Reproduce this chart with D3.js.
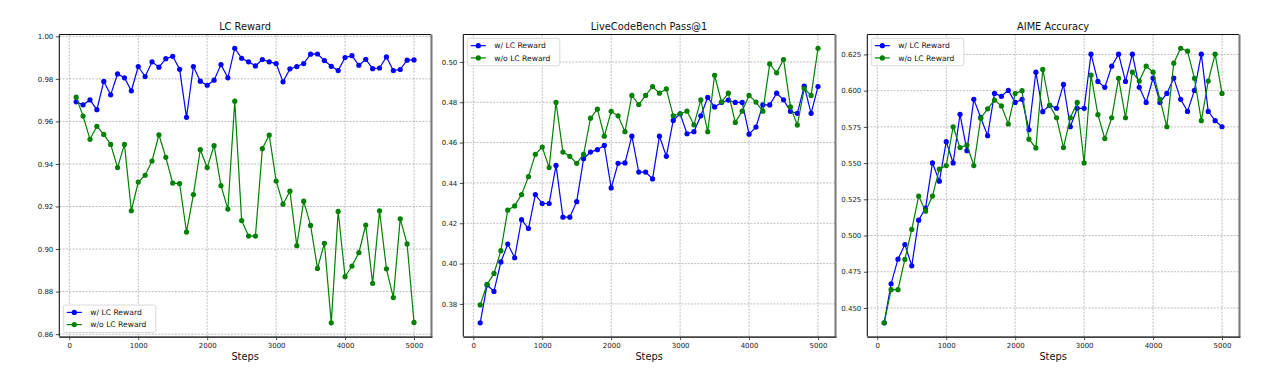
<!DOCTYPE html>
<html><head><meta charset="utf-8">
<script src="https://cdn.jsdelivr.net/npm/d3@7"></script>
<style>body{margin:0;background:#fff}svg{display:block}text{font-family:"DejaVu Sans",sans-serif}</style>
</head><body><svg id="c" width="1271" height="378"></svg>
<script>
const steps = d3.range(1, 51).map(i => i * 100);
const seriesNames = ["w/ LC Reward", "w/o LC Reward"];
const titles = ["LC Reward", "LiveCodeBench Pass@1", "AIME Accuracy"];
const xTicks = [0, 1000, 2000, 3000, 4000, 5000];

const lcRewardWith = [0.9692,0.9678,0.9701,0.9655,0.9788,0.9725,0.9823,0.9805,0.9744,0.9858,
0.9811,0.9880,0.9855,0.9895,0.9906,0.9845,0.9619,0.9858,0.9789,0.9770,
0.9794,0.9867,0.9805,0.9944,0.9897,0.9880,0.9861,0.9891,0.9880,0.9872,
0.9786,0.9847,0.9858,0.9872,0.9916,0.9917,0.9886,0.9859,0.9839,0.9900,
0.9909,0.9864,0.9892,0.9848,0.9851,0.9903,0.9839,0.9844,0.9888,0.9889];
const lcRewardWithout = [0.9714,0.9625,0.9516,0.9577,0.9539,0.9492,0.9383,0.9492,0.9180,0.9315,
0.9347,0.9414,0.9537,0.9431,0.9310,0.9308,0.9080,0.9256,0.9467,0.9383,
0.9486,0.9298,0.9188,0.9695,0.9134,0.9061,0.9061,0.9472,0.9536,0.9320,
0.9211,0.9272,0.9016,0.9225,0.9111,0.8909,0.9027,0.8653,0.9177,0.8870,
0.8920,0.8983,0.9113,0.8839,0.9180,0.8907,0.8772,0.9142,0.9024,0.8655];
const lcbWith = [0.3706,0.3894,0.3862,0.4008,0.4097,0.4029,0.4218,0.4174,0.4342,0.4298,
0.4298,0.4487,0.4230,0.4230,0.4307,0.4520,0.4553,0.4565,0.4586,0.4375,
0.4497,0.4499,0.4632,0.4454,0.4454,0.4420,0.4632,0.4532,0.4710,0.4743,
0.4644,0.4654,0.4733,0.4824,0.4777,0.4799,0.4811,0.4799,0.4799,0.4642,
0.4677,0.4787,0.4787,0.4845,0.4812,0.4755,0.4745,0.4880,0.4745,0.4878];
const lcbWithout = [0.3795,0.3897,0.3951,0.4064,0.4265,0.4286,0.4342,0.4431,0.4542,0.4578,
0.4476,0.4799,0.4553,0.4532,0.4497,0.4542,0.4721,0.4766,0.4632,0.4755,
0.4733,0.4654,0.4834,0.4789,0.4834,0.4878,0.4845,0.4866,0.4733,0.4743,
0.4756,0.4688,0.4812,0.4654,0.4934,0.4801,0.4845,0.4700,0.4756,0.4834,
0.4801,0.4756,0.4990,0.4946,0.5012,0.4777,0.4687,0.4868,0.4834,0.5068];
const aimeWith = [0.4397,0.4667,0.4837,0.4938,0.4791,0.5106,0.5189,0.5501,0.5375,0.5648,
0.5501,0.5837,0.5586,0.5940,0.5815,0.5689,0.5981,0.5961,0.6002,0.5919,
0.5940,0.5730,0.6128,0.5855,0.5899,0.5878,0.6043,0.5751,0.5878,0.5878,
0.6252,0.6064,0.6023,0.6169,0.6252,0.6064,0.6252,0.6023,0.5919,0.6087,
0.5919,0.5981,0.6087,0.5940,0.5857,0.6002,0.6252,0.5857,0.5793,0.5751];
const aimeWithout = [0.4397,0.4626,0.4626,0.4835,0.5042,0.5272,0.5168,0.5272,0.5458,0.5483,
0.5751,0.5607,0.5625,0.5483,0.5810,0.5875,0.5935,0.5895,0.5770,0.5980,
0.6000,0.5665,0.5605,0.6147,0.5899,0.5813,0.5607,0.5813,0.5919,0.5501,
0.6107,0.5834,0.5669,0.5813,0.6085,0.5813,0.6128,0.6066,0.6169,0.6128,
0.5940,0.5751,0.6190,0.6293,0.6273,0.6085,0.5793,0.6066,0.6252,0.5981];

const yTicks1 = [0.86,0.88,0.90,0.92,0.94,0.96,0.98,1.00];
const yTicks2 = [0.38,0.40,0.42,0.44,0.46,0.48,0.50];
const yTicks3 = [0.450,0.475,0.500,0.525,0.550,0.575,0.600,0.625];

const panels = [
  {title: titles[0], a: lcRewardWith, b: lcRewardWithout, ticks: yTicks1, fmt: d3.format(".2f"), legend: "bottom"},
  {title: titles[1], a: lcbWith, b: lcbWithout, ticks: yTicks2, fmt: d3.format(".2f"), legend: "top"},
  {title: titles[2], a: aimeWith, b: aimeWithout, ticks: yTicks3, fmt: d3.format(".3f"), legend: "top"}
];
const colors = ["#0000ff", "#008000"];

const svg = d3.select("#c");
const lefts = [59.3, 463.3, 867.3], W = 371.6, topY = 34.5, botY = 336.6;

panels.forEach((p, i) => {
  const L = lefts[i], R = L + W;
  const g = svg.append("g");
  const x = d3.scaleLinear().domain([100 - 245, 5000 + 245]).range([L, R]);
  const all = p.a.concat(p.b);
  const lo = d3.min(all), hi = d3.max(all), pad = (hi - lo) * 0.05;
  const y = d3.scaleLinear().domain([lo - pad, hi + pad]).range([botY, topY]);

  // grid
  g.append("g").selectAll("line").data(xTicks).join("line")
    .attr("x1", d => x(d)).attr("x2", d => x(d)).attr("y1", topY).attr("y2", botY)
    .attr("stroke", "#a8a8a8").attr("stroke-width", 0.75).attr("stroke-dasharray", "2,1.3");
  g.append("g").selectAll("line").data(p.ticks).join("line")
    .attr("x1", L).attr("x2", R).attr("y1", d => y(d)).attr("y2", d => y(d))
    .attr("stroke", "#a8a8a8").attr("stroke-width", 0.75).attr("stroke-dasharray", "2,1.3");

  // axes
  const xa = g.append("g").attr("transform", `translate(0,${botY})`)
    .call(d3.axisBottom(x).tickValues(xTicks).tickFormat(d3.format("d")).tickSize(3.5).tickPadding(2.5));
  const ya = g.append("g").attr("transform", `translate(${L},0)`)
    .call(d3.axisLeft(y).tickValues(p.ticks).tickFormat(p.fmt).tickSize(3.5).tickPadding(2.5));
  [xa, ya].forEach(a => {
    a.select(".domain").remove();
    a.selectAll("text").attr("font-size", 7).attr("fill", "#222").attr("font-family", "DejaVu Sans");
    a.selectAll("line").attr("stroke", "#222").attr("stroke-width", 0.8);
  });

  // lines and markers
  [p.a, p.b].forEach((vals, k) => {
    const pts = steps.map((s, j) => [s, vals[j]]);
    g.append("path").datum(pts)
      .attr("d", d3.line().x(d => x(d[0])).y(d => y(d[1])))
      .attr("fill", "none").attr("stroke", colors[k]).attr("stroke-width", 1.2);
    g.append("g").selectAll("circle").data(pts).join("circle")
      .attr("cx", d => x(d[0])).attr("cy", d => y(d[1])).attr("r", 2.6).attr("fill", colors[k]);
  });

  // frame
  g.append("line").attr("x1", R + 0.6).attr("x2", R + 0.6).attr("y1", topY).attr("y2", botY + 0.8)
    .attr("stroke", "#777").attr("stroke-width", 2);
  g.append("line").attr("x1", L).attr("x2", R + 1.5).attr("y1", botY + 0.5).attr("y2", botY + 0.5)
    .attr("stroke", "#444").attr("stroke-width", 1.6);
  g.append("line").attr("x1", L).attr("x2", L).attr("y1", topY).attr("y2", botY)
    .attr("stroke", "#111").attr("stroke-width", 1.1);
  g.append("line").attr("x1", L).attr("x2", R).attr("y1", topY).attr("y2", topY)
    .attr("stroke", "#111").attr("stroke-width", 1.1);

  // title and label
  g.append("text").attr("x", (L + R) / 2).attr("y", 30).attr("text-anchor", "middle")
    .attr("font-size", 9.8).attr("fill", "#111").text(p.title);
  g.append("text").attr("x", (L + R) / 2).attr("y", 360).attr("text-anchor", "middle")
    .attr("font-size", 9.8).attr("fill", "#111").text("Steps");

  // legend
  const bx = L + 4, by = p.legend === "top" ? 38.3 : 305, bw = 92.5, bh = 27.4;
  const lg = g.append("g");
  lg.append("rect").attr("x", bx).attr("y", by).attr("width", bw).attr("height", bh)
    .attr("rx", 2).attr("fill", "#fff").attr("fill-opacity", 0.8).attr("stroke", "#d0d0d0").attr("stroke-width", 0.8);
  seriesNames.forEach((n, k) => {
    const yy = by + 7.4 + k * 12.2;
    lg.append("line").attr("x1", bx + 3.5).attr("x2", bx + 18.5).attr("y1", yy).attr("y2", yy)
      .attr("stroke", colors[k]).attr("stroke-width", 1.2);
    lg.append("circle").attr("cx", bx + 11).attr("cy", yy).attr("r", 2.6).attr("fill", colors[k]);
    lg.append("text").attr("x", bx + 27).attr("y", yy + 2.7).attr("font-size", 7.6).attr("fill", "#111").text(n);
  });
});
</script></body></html>
